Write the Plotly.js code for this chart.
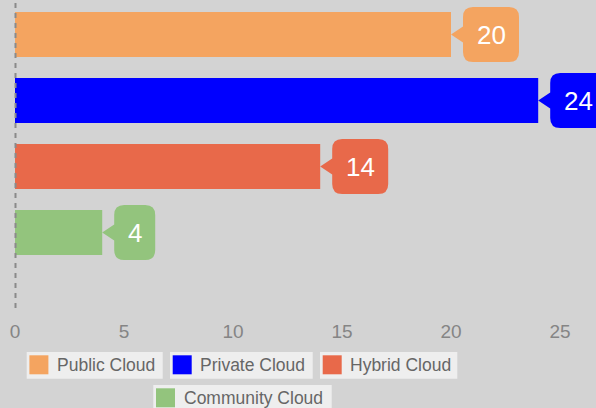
<!DOCTYPE html>
<html>
<head>
<meta charset="utf-8">
<script src="https://cdn.plot.ly/plotly-3.0.1.min.js"></script>
<style>html,body{margin:0;padding:0;background:#d3d3d3;}#chart{width:596px;height:408px;}</style>
</head>
<body>
<div id="chart"></div>
<script>
// ---- data ----
var categories = ["Public Cloud", "Private Cloud", "Hybrid Cloud", "Community Cloud"];
var values = [20, 24, 14, 4];
var colors = ["#f4a460", "#0000ff", "#e8694a", "#93c47d"];
var tickVals = [0, 5, 10, 15, 20, 25];
var tickText = ["0", "5", "10", "15", "20", "25"];

// ---- layout helpers ----
var W = 596, H = 408;
var mL = 15, mR = 0, mT = 0, mB = 98;
var plotW = W - mL - mR, plotH = H - mT - mB;
function px2paperX(px) { return (px - mL) / plotW; }
function px2paperY(py) { return (H - mB - py) / plotH; }

var idx = categories.map(function (c, i) { return i; });

var traces = [{
  type: "bar",
  orientation: "h",
  x: values,
  y: idx,
  width: 0.682,
  marker: { color: colors, line: { width: 0 } },
  hoverinfo: "skip",
  showlegend: false
}];

var shapes = [];
var annotations = [];

// dashed zero line (paper-referenced so it is not clipped at the plot edge)
shapes.push({
  type: "line", xref: "paper", yref: "paper", x0: px2paperX(15.5), x1: px2paperX(15.5), y0: px2paperY(308), y1: 1,
  line: { color: "#8a8a8a", width: 2, dash: "5px,5px" }, layer: "above"
});

// callouts
values.forEach(function (v, i) {
  var label = String(v);
  var w = 26 + 15 * label.length;
  var h = 27.5, r = 10, b = 12, ph = 8;
  var x1 = b + w;
  var path = "M0,0 L" + b + "," + ph +
    " L" + b + "," + (h - r) + " Q" + b + "," + h + " " + (b + r) + "," + h +
    " L" + (x1 - r) + "," + h + " Q" + x1 + "," + h + " " + x1 + "," + (h - r) +
    " L" + x1 + "," + (-h + r) + " Q" + x1 + "," + (-h) + " " + (x1 - r) + "," + (-h) +
    " L" + (b + r) + "," + (-h) + " Q" + b + "," + (-h) + " " + b + "," + (-h + r) +
    " L" + b + "," + (-ph) + " Z";
  shapes.push({
    type: "path", xref: "x", yref: "y",
    xsizemode: "pixel", ysizemode: "pixel", xanchor: v, yanchor: i,
    path: path, fillcolor: colors[i], line: { width: 0 }, layer: "above"
  });
  annotations.push({
    x: v, y: i, xref: "x", yref: "y", text: label, showarrow: false,
    xanchor: "center", yanchor: "middle", xshift: b + w / 2,
    font: { family: "Arial, Liberation Sans, sans-serif", size: 26, color: "#ffffff" }
  });
});

// custom legend (per-item boxes)
var legendPos = [[26.7, 352, 136], [170, 352, 142.7], [320, 352, 137.3], [153.3, 385, 178.4]];
var boxH = 26.7;
categories.forEach(function (c, i) {
  var p = legendPos[i];
  shapes.push({
    type: "rect", xref: "paper", yref: "paper",
    x0: px2paperX(p[0]), x1: px2paperX(p[0] + p[2]),
    y0: px2paperY(p[1]), y1: px2paperY(p[1] + boxH),
    fillcolor: "#eeeeee", line: { width: 0 }, layer: "above"
  });
  shapes.push({
    type: "rect", xref: "paper", yref: "paper",
    x0: px2paperX(p[0] + 2.7), x1: px2paperX(p[0] + 21.7),
    y0: px2paperY(p[1] + 3.3), y1: px2paperY(p[1] + 22.3),
    fillcolor: colors[i], line: { width: 0 }, layer: "above"
  });
  annotations.push({
    x: px2paperX(p[0] + 28.3), y: px2paperY(p[1] + boxH / 2),
    xref: "paper", yref: "paper", text: c, showarrow: false,
    xanchor: "left", yanchor: "middle",
    font: { family: "Arial, Liberation Sans, sans-serif", size: 17.5, color: "#666666" }
  });
});

var layout = {
  width: W, height: H,
  margin: { l: mL, r: mR, t: mT, b: mB, pad: 0 },
  paper_bgcolor: "#d3d3d3",
  plot_bgcolor: "#d3d3d3",
  barmode: "overlay",
  showlegend: false,
  xaxis: {
    range: [0, plotW / 21.8],
    tickvals: tickVals, ticktext: tickText,
    showgrid: false, zeroline: false, showline: false, ticks: "",
    ticklabelstandoff: 8,
    tickfont: { family: "Arial, Liberation Sans, sans-serif", size: 19, color: "#858585" },
    fixedrange: true
  },
  yaxis: {
    range: [(plotH - 34.5) / 66, -34.5 / 66],
    showgrid: false, zeroline: false, showline: false, showticklabels: false, ticks: "",
    fixedrange: true
  },
  shapes: shapes,
  annotations: annotations
};

Plotly.newPlot("chart", traces, layout, { displayModeBar: false, staticPlot: true });
</script>
</body>
</html>
